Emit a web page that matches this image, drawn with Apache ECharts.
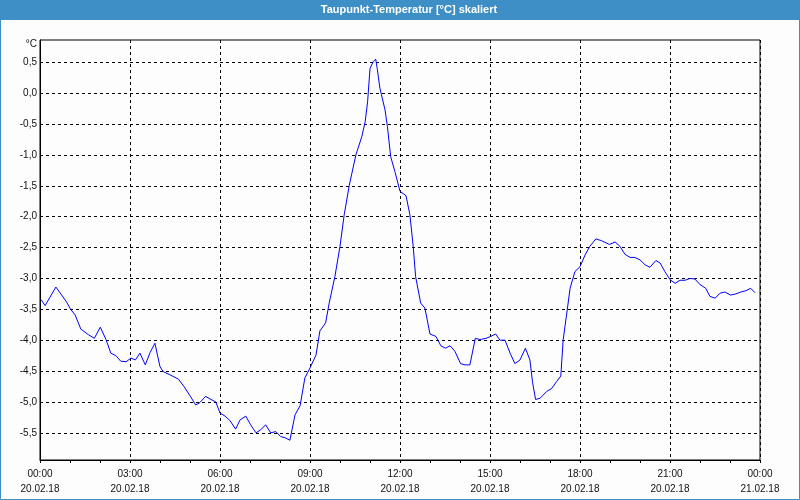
<!DOCTYPE html>
<html><head><meta charset="utf-8">
<script src="https://cdn.jsdelivr.net/npm/echarts@6/dist/echarts.min.js"></script>
<style>html,body{margin:0;padding:0;background:#fcfdfc}#c{width:800px;height:500px}</style>
</head><body><div id="c"></div>
<script>
const chartTitle = 'Taupunkt-Temperatur [°C] skaliert';
const unitLabel = '°C';
const hours = [0.03,0.17,0.53,0.87,1.02,1.17,1.36,1.61,1.81,2.01,2.20,2.36,2.53,2.69,2.87,3.03,3.18,3.33,3.51,3.67,3.83,4.00,4.11,4.33,4.61,4.80,5.00,5.19,5.33,5.52,5.70,5.86,6.00,6.17,6.33,6.52,6.67,6.86,7.02,7.20,7.36,7.52,7.69,7.86,8.02,8.17,8.33,8.50,8.67,8.83,9.00,9.20,9.33,9.52,9.64,9.83,10.00,10.14,10.31,10.53,10.73,10.84,10.92,11.00,11.11,11.19,11.24,11.33,11.50,11.58,11.69,11.83,12.00,12.20,12.33,12.44,12.52,12.69,12.83,13.00,13.20,13.36,13.52,13.67,13.83,14.02,14.17,14.33,14.51,14.67,14.87,15.02,15.19,15.33,15.50,15.67,15.83,16.00,16.18,16.33,16.42,16.52,16.67,16.89,17.06,17.22,17.36,17.44,17.56,17.67,17.83,18.00,18.17,18.33,18.53,18.72,18.98,19.17,19.33,19.50,19.67,19.83,20.00,20.17,20.33,20.53,20.67,20.83,21.00,21.17,21.33,21.50,21.67,21.83,22.00,22.19,22.33,22.50,22.67,22.83,23.02,23.20,23.36,23.53,23.69,23.83];
const dewPoint = [-3.34,-3.44,-3.14,-3.37,-3.50,-3.59,-3.82,-3.91,-3.97,-3.79,-3.99,-4.21,-4.25,-4.34,-4.35,-4.29,-4.32,-4.21,-4.40,-4.20,-4.05,-4.43,-4.51,-4.56,-4.63,-4.75,-4.90,-5.05,-5.01,-4.91,-4.96,-5.00,-5.18,-5.23,-5.30,-5.44,-5.29,-5.23,-5.37,-5.50,-5.45,-5.37,-5.50,-5.48,-5.56,-5.58,-5.62,-5.21,-5.06,-4.61,-4.45,-4.24,-3.85,-3.72,-3.40,-2.97,-2.48,-1.97,-1.49,-1.00,-0.70,-0.46,-0.14,0.40,0.51,0.55,0.40,0.08,-0.27,-0.54,-1.03,-1.27,-1.59,-1.66,-1.97,-2.48,-2.97,-3.40,-3.48,-3.90,-3.94,-4.09,-4.13,-4.09,-4.18,-4.38,-4.40,-4.40,-3.97,-3.99,-3.97,-3.94,-3.90,-4.00,-4.00,-4.21,-4.38,-4.32,-4.13,-4.32,-4.69,-4.96,-4.94,-4.83,-4.78,-4.67,-4.58,-3.99,-3.56,-3.16,-2.89,-2.81,-2.62,-2.48,-2.36,-2.39,-2.45,-2.41,-2.48,-2.61,-2.66,-2.66,-2.70,-2.78,-2.82,-2.71,-2.75,-2.89,-3.02,-3.08,-3.03,-3.03,-3.00,-3.01,-3.10,-3.16,-3.29,-3.32,-3.24,-3.22,-3.27,-3.25,-3.22,-3.20,-3.16,-3.23];
const yTicks = [-5.5,-5.0,-4.5,-4.0,-3.5,-3.0,-2.5,-2.0,-1.5,-1.0,-0.5,0.0,0.5];
const xTickHours = [0,3,6,9,12,15,18,21,24];
const xTickTimes = ['00:00','03:00','06:00','09:00','12:00','15:00','18:00','21:00','00:00'];
const xTickDates = ['20.02.18','20.02.18','20.02.18','20.02.18','20.02.18','20.02.18','20.02.18','20.02.18','21.02.18'];

const FONT = 'Liberation Sans';
const chart = echarts.init(document.getElementById('c'), null, {renderer: 'canvas'});
chart.setOption({
  animation: false,
  backgroundColor: '#fcfdfc',
  graphic: [
    {type: 'rect', shape: {x: 0, y: 0, width: 800, height: 20}, style: {fill: '#3d8fc6'}, z: 1},
    {type: 'rect', shape: {x: 0.5, y: 0.5, width: 799, height: 499}, style: {fill: 'none', stroke: '#3d8fc6', lineWidth: 1}, z: 1},
    {type: 'text', x: 409, y: 10, style: {text: chartTitle, fill: '#ffffff', font: 'bold 11px "Liberation Sans"', textAlign: 'center', textVerticalAlign: 'middle'}, z: 2},
    {type: 'text', x: 37, y: 44, style: {text: unitLabel, fill: '#111', font: '10px "Liberation Sans"', textAlign: 'right', textVerticalAlign: 'middle'}, z: 2}
  ],
  grid: {left: 40, right: 40, top: 40, bottom: 40, show: true, borderColor: '#000', borderWidth: 1, backgroundColor: '#fcfdfc', outerBoundsMode: 'none', containLabel: false},
  xAxis: {
    type: 'value', min: 0, max: 24, interval: 3,
    axisLine: {show: true, onZero: false, lineStyle: {color: '#000', width: 1}},
    axisTick: {show: true, length: 3, lineStyle: {color: '#000'}},
    minorTick: {show: true, splitNumber: 3, length: 3, lineStyle: {color: '#000'}},
    splitLine: {show: true, lineStyle: {color: '#000', type: [3, 3], width: 1}},
    axisLabel: {
      show: true, margin: 7, color: '#111', fontFamily: FONT, fontSize: 10, lineHeight: 15,
      showMinLabel: true, showMaxLabel: true,
      formatter: function (v) {
        const i = xTickHours.indexOf(Math.round(v));
        return i < 0 ? '' : xTickTimes[i] + '\n' + xTickDates[i];
      }
    }
  },
  yAxis: {
    type: 'value', min: -5.94, max: 0.86,
    axisLine: {show: true, onZero: false, lineStyle: {color: '#000', width: 1}},
    axisTick: {show: false, customValues: yTicks},
    splitLine: {show: true, lineStyle: {color: '#000', type: [3, 3], width: 1}},
    axisLabel: {
      show: true, margin: 3, color: '#111', fontFamily: FONT, fontSize: 10,
      customValues: yTicks,
      formatter: function (v) { return v.toFixed(1).replace('.', ','); }
    }
  },
  series: [{
    type: 'line', showSymbol: false, symbol: 'none',
    data: hours.map((h, i) => [h, dewPoint[i]]),
    lineStyle: {color: '#0000ff', width: 1},
    itemStyle: {color: '#0000ff'}
  }]
});
</script></body></html>
